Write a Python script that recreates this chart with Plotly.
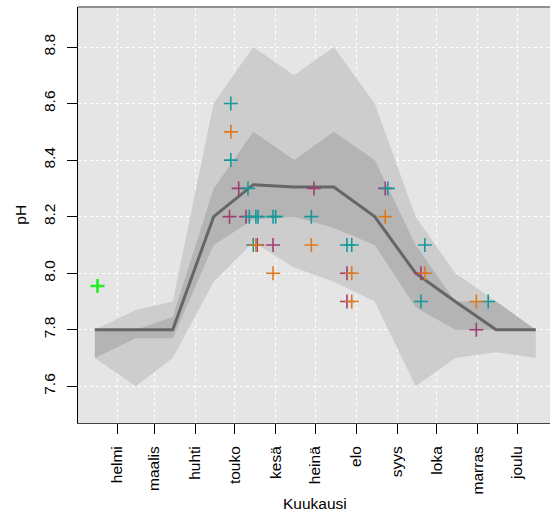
import plotly.graph_objects as go

# ---- data ----
month_labels = ["helmi", "maalis", "huhti", "touko", "kesä", "heinä", "elo", "syys", "loka", "marras", "joulu"]
month_starts = [32, 60, 91, 121, 152, 182, 213, 244, 274, 305, 335]

band_days = [15, 46, 74, 105, 135, 166, 196, 227, 258, 288, 319, 349]
median_ph = [7.8, 7.8, 7.8, 8.2, 8.313, 8.305, 8.305, 8.2, 8.0, 7.9, 7.8, 7.8]
outer_hi = [7.8, 7.87, 7.9, 8.6, 8.8, 8.7, 8.8, 8.6, 8.2, 8.0, 7.9, 7.8]
outer_lo = [7.7, 7.6, 7.7, 7.97, 8.11, 8.02, 7.97, 7.9, 7.6, 7.7, 7.72, 7.7]
inner_hi = [7.8, 7.8, 7.845, 8.3, 8.5, 8.4, 8.5, 8.4, 8.1, 7.9, 7.9, 7.8]
inner_lo = [7.7, 7.77, 7.77, 8.1, 8.19, 8.2, 8.16, 8.1, 7.88, 7.8, 7.8, 7.8]

purple_day = [117, 124, 129.5, 138, 150, 181, 206, 206, 235, 262, 304]
purple_ph = [8.2, 8.3, 8.2, 8.1, 8.1, 8.3, 8.0, 7.9, 8.3, 8.0, 7.8]
teal_day = [118, 118, 131, 132, 137, 138.6, 150, 152, 179, 135, 206, 209.6, 237, 265, 262, 313]
teal_ph = [8.6, 8.4, 8.3, 8.2, 8.2, 8.2, 8.2, 8.2, 8.2, 8.1, 8.1, 8.1, 8.3, 8.1, 7.9, 7.9]
orange_day = [118, 137, 150, 179, 209.6, 209.6, 235, 265, 304]
orange_ph = [8.5, 8.1, 8.0, 8.1, 8.0, 7.9, 8.2, 8.0, 7.9]
green_day = [17]
green_ph = [7.955]

yticks = [7.6, 7.8, 8.0, 8.2, 8.4, 8.6, 8.8]

FONT = "Liberation Sans, Arial, sans-serif"
FS = 15.5

fig = go.Figure()

fig.add_trace(go.Scatter(
    x=band_days + band_days[::-1], y=outer_hi + outer_lo[::-1],
    fill="toself", fillcolor="#CDCDCD", line=dict(width=0), mode="lines",
    hoverinfo="skip", showlegend=False))
fig.add_trace(go.Scatter(
    x=band_days + band_days[::-1], y=inner_hi + inner_lo[::-1],
    fill="toself", fillcolor="#B4B4B4", line=dict(width=0), mode="lines",
    hoverinfo="skip", showlegend=False))
fig.add_trace(go.Scatter(
    x=band_days, y=median_ph, mode="lines",
    line=dict(color="#666666", width=3), showlegend=False))

def pts(xs, ys, c, w=1.6, s=10):
    fig.add_trace(go.Scatter(
        x=xs, y=ys, mode="markers", showlegend=False,
        marker=dict(symbol="cross-thin", size=s, color=c, line=dict(width=w, color=c))))

pts(purple_day, purple_ph, "#A03D72")
pts(teal_day, teal_ph, "#16999B")
pts(orange_day, orange_ph, "#E0781C")
pts(green_day, green_ph, "#22EE22", w=2.6, s=10)

fig.update_layout(
    width=550, height=518,
    margin=dict(l=78, r=0, t=7, b=95),
    paper_bgcolor="white", plot_bgcolor="#E5E5E5",
    font=dict(family=FONT, size=FS, color="black"),
    showlegend=False,
    xaxis=dict(
        range=[2.23, 359.8], tickmode="array", tickvals=month_starts, ticktext=month_labels,
        tickangle=-90, ticks="outside", ticklen=10, tickcolor="black", tickwidth=1,
        showgrid=True, gridcolor="white", griddash="3px,3px", gridwidth=1,
        showline=True, linecolor="#444444", linewidth=1,
        zeroline=False, tickfont=dict(family=FONT, size=FS, color="black"),
        ticklabelstandoff=6,
    ),
    yaxis=dict(
        range=[7.4702, 8.9415], tickmode="array", tickvals=yticks,
        ticktext=[f"{v:.1f}" for v in yticks],
        tickangle=-90, ticks="outside", ticklen=10, tickcolor="black", tickwidth=1,
        showgrid=True, gridcolor="white", griddash="3px,3px", gridwidth=1,
        showline=True, linecolor="black", linewidth=1,
        zeroline=False, tickfont=dict(family=FONT, size=FS, color="black"),
        ticklabelstandoff=6,
    ),
    shapes=[dict(type="line", xref="paper", yref="paper", x0=0, x1=1, y0=1, y1=1,
                 line=dict(color="#707070", width=1.5))],
    annotations=[
        dict(text="pH", xref="paper", yref="paper", x=(21 - 78) / 472, y=0.5007,
             textangle=-90, showarrow=False, xanchor="center", yanchor="middle",
             font=dict(family=FONT, size=FS, color="black")),
        dict(text="Kuukausi", xref="paper", yref="paper", x=(315 - 78) / 472, y=(423 - 503) / 416,
             showarrow=False, xanchor="center", yanchor="middle",
             font=dict(family=FONT, size=FS, color="black")),
    ],
)

fig.write_html("out.html")
